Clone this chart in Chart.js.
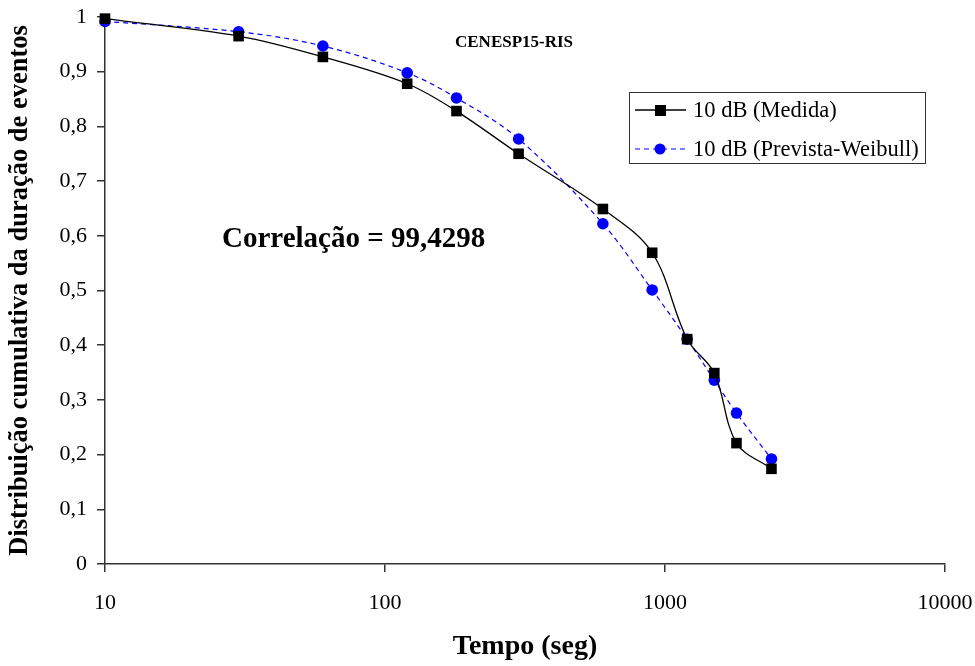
<!DOCTYPE html>
<html><head><meta charset="utf-8">
<script src="https://cdn.jsdelivr.net/npm/chart.js@4/dist/chart.umd.min.js"></script>
<style>html,body{margin:0;padding:0;background:#fff}#wrap{width:975px;height:666px}</style>
</head><body><div id="wrap"><canvas id="c" width="975" height="666"></canvas></div>
<script>
const tempos = [10, 30, 60, 120, 180, 300, 600, 900, 1200, 1500, 1800, 2400];
const medida = [0.997, 0.965, 0.927, 0.878, 0.828, 0.750, 0.649, 0.569, 0.411, 0.349, 0.221, 0.174];
const prevista = [0.992, 0.973, 0.947, 0.898, 0.852, 0.777, 0.622, 0.501, 0.411, 0.336, 0.276, 0.192];
const xTicks = [10, 100, 1000, 10000];
const yTicks = [0, 0.1, 0.2, 0.3, 0.4, 0.5, 0.6, 0.7, 0.8, 0.9, 1];
const seriesNames = ['10 dB (Medida)', '10 dB (Prevista-Weibull)'];
const chartTitle = 'CENESP15-RIS';
const annotation = 'Correlação = 99,4298';
const xTitle = 'Tempo (seg)';
const yTitle = 'Distribuição cumulativa da duração de eventos';

const FONT = '"Liberation Serif", "Times New Roman", serif';
const AX = '#333333';

const textPlugin = {
  id: 'texts',
  afterDraw(chart) {
    const ctx = chart.ctx;
    ctx.save();
    ctx.fillStyle = '#000';
    ctx.textBaseline = 'middle';
    ctx.textAlign = 'left';
    ctx.font = 'bold 17px ' + FONT;
    ctx.fillText(chartTitle, 455, 43);
    ctx.font = 'bold 29px ' + FONT;
    ctx.fillText(annotation, 222, 240);
    // legend
    const bx = 629, by = 92, bw = 296, bh = 71;
    ctx.fillStyle = '#fff';
    ctx.fillRect(bx, by, bw, bh);
    ctx.strokeStyle = AX; ctx.lineWidth = 1;
    ctx.strokeRect(bx + 0.5, by + 0.5, bw, bh);
    const rows = [110, 149];
    chart.data.datasets.forEach((ds, i) => {
      const y = rows[i];
      ctx.strokeStyle = ds.borderColor;
      ctx.lineWidth = ds.borderWidth;
      ctx.setLineDash(ds.borderDash || []);
      ctx.beginPath(); ctx.moveTo(635, y); ctx.lineTo(686, y); ctx.stroke();
      ctx.setLineDash([]);
      ctx.fillStyle = ds.pointBackgroundColor;
      if (ds.pointStyle === 'rect') {
        ctx.fillRect(655, y - 5, 11, 11);
      } else {
        ctx.beginPath(); ctx.arc(660, y, 5.5, 0, Math.PI * 2); ctx.fill();
      }
      ctx.fillStyle = '#000';
      ctx.font = '22.5px ' + FONT;
      ctx.textAlign = 'left';
      ctx.fillText(ds.label, 693, y + 1);
    });
    ctx.restore();
  }
};

const fmtY = v => (v === 0 ? '0' : v === 1 ? '1' : v.toFixed(1).replace('.', ','));

const chart = new Chart(document.getElementById('c'), {
  type: 'line',
  data: {
    datasets: [
      {
        label: seriesNames[0],
        data: tempos.map((x, i) => ({ x, y: medida[i] })),
        borderColor: '#000', borderWidth: 1.3, tension: 0.35,
        pointStyle: 'rect', pointRadius: 7.5, pointBackgroundColor: '#000', pointBorderColor: '#000', pointBorderWidth: 0,
        clip: false
      },
      {
        label: seriesNames[1],
        data: tempos.map((x, i) => ({ x, y: prevista[i] })),
        borderColor: '#0000ff', borderWidth: 1.2, borderDash: [5, 4], tension: 0.35,
        pointStyle: 'circle', pointRadius: 5.8, pointBackgroundColor: '#0000ff', pointBorderColor: '#0000ff', pointBorderWidth: 0,
        clip: false
      }
    ]
  },
  options: {
    responsive: false, animation: false, devicePixelRatio: 1,
    layout: { padding: { top: 17, right: 30, left: 0, bottom: 0 } },
    plugins: { legend: { display: false }, tooltip: { enabled: false }, title: { display: false } },
    scales: {
      x: {
        type: 'logarithmic', min: 10, max: 10000,
        afterBuildTicks: s => { s.ticks = xTicks.map(v => ({ value: v })); },
        afterFit: s => { s.height = 102; s.paddingLeft = 0; s.paddingRight = 0; },
        grid: { drawOnChartArea: false, drawTicks: true, tickLength: 8, color: AX, lineWidth: 1.5 },
        border: { color: AX, width: 1.5 },
        ticks: { color: '#000', font: { family: FONT, size: 22 }, padding: 18, maxRotation: 0, autoSkip: false, callback: v => String(v) },
        title: { display: true, text: xTitle, color: '#000', font: { family: FONT, size: 28, weight: 'bold' }, padding: { top: 0, bottom: 2 } }
      },
      y: {
        min: 0, max: 1,
        afterBuildTicks: s => { s.ticks = yTicks.map(v => ({ value: v })); },
        afterFit: s => { s.width = 105; s.paddingTop = 0; s.paddingBottom = 0; },
        grid: { drawOnChartArea: false, drawTicks: true, tickLength: 8, color: AX, lineWidth: 1.5 },
        border: { color: AX, width: 1.5 },
        ticks: { color: '#000', font: { family: FONT, size: 22 }, padding: 10, autoSkip: false, callback: fmtY },
        title: { display: true, text: yTitle, color: '#000', font: { family: FONT, size: 26.5, weight: 'bold' }, padding: { top: 4, bottom: 0 } }
      }
    }
  },
  plugins: [textPlugin]
});
</script></body></html>
